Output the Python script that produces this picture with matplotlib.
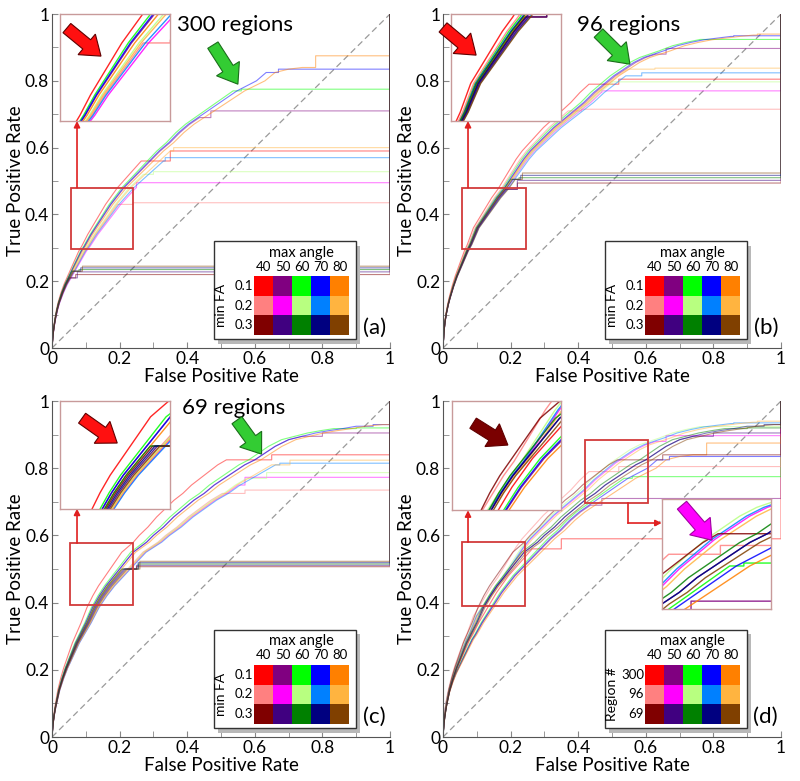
import numpy as np
import matplotlib
matplotlib.use("Agg")
import matplotlib.pyplot as plt
from matplotlib.patches import Rectangle, FancyArrow
from matplotlib.ticker import MultipleLocator

plt.rcParams['font.family'] = ['Lato', 'DejaVu Sans']

# shared FPR grid of the base ROC curves
fpr_grid = [0, 0.003, 0.006, 0.01, 0.015, 0.02, 0.03, 0.04, 0.05, 0.06, 0.07, 0.08, 0.09, 0.10,
            0.12, 0.14, 0.16, 0.18, 0.20, 0.22, 0.24, 0.26, 0.28, 0.30, 0.33, 0.36, 0.39, 0.42,
            0.45, 0.48, 0.51, 0.54, 0.57, 0.60, 0.63, 0.66, 0.70, 0.74, 0.78, 0.82, 0.86, 0.90,
            0.95, 1.0]
# base TPR
tpr_300 = [0, 0.04, 0.065, 0.09, 0.115, 0.135, 0.165, 0.19, 0.21, 0.23, 0.25, 0.27, 0.29, 0.305,
           0.34, 0.37, 0.40, 0.43, 0.455, 0.48, 0.50, 0.52, 0.54, 0.56, 0.59, 0.615, 0.645, 0.67,
           0.69, 0.71, 0.73, 0.75, 0.77, 0.785, 0.80, 0.825, 0.835, 0.84, 0.845, 0.85, 0.865, 0.88,
           0.89, 0.90]
tpr_96 = [0, 0.05, 0.08, 0.105, 0.13, 0.15, 0.185, 0.215, 0.24, 0.265, 0.29, 0.31, 0.335, 0.36,
          0.39, 0.42, 0.45, 0.475, 0.505, 0.535, 0.565, 0.59, 0.61, 0.63, 0.66, 0.685, 0.71, 0.735,
          0.765, 0.79, 0.815, 0.835, 0.855, 0.87, 0.88, 0.89, 0.905, 0.915, 0.923, 0.928, 0.933,
          0.937, 0.94, 0.942]
tpr_69 = [0, 0.04, 0.065, 0.09, 0.115, 0.14, 0.175, 0.205, 0.23, 0.255, 0.28, 0.30, 0.32, 0.34,
          0.385, 0.42, 0.45, 0.475, 0.50, 0.525, 0.55, 0.565, 0.58, 0.60, 0.625, 0.655, 0.68, 0.705,
          0.725, 0.75, 0.77, 0.79, 0.81, 0.825, 0.845, 0.865, 0.885, 0.895, 0.905, 0.912, 0.918,
          0.925, 0.93, 0.935]

angles = ['40', '50', '60', '70', '80']
fa_labels = ['0.1', '0.2', '0.3']
region_labels = ['300', '96', '69']
tick_labels = ['0', '0.2', '0.4', '0.6', '0.8', '1']

palette = [['#ff0000', '#800080', '#00ff00', '#0000ff', '#ff8000'],
           ['#ff8080', '#ff00ff', '#b8ff80', '#0080ff', '#ffb440'],
           ['#800000', '#400080', '#008000', '#000080', '#804000']]

# per curve: FPR stretch, final TPR plateau, FPR where it jumps to the plateau
# rows = min FA 0.1/0.2/0.3, columns = max angle 40..80
scale_300 = [[0.88, 0.97, 0.94, 0.96, 1.0], [1.08, 1.13, 1.04, 1.1, 1.06], [1.0, 1.05, 0.98, 1.03, 1.07]]
plateau_300 = [[0.59, 0.71, 0.775, 0.835, 0.875], [0.435, 0.495, 0.528, 0.57, 0.60], [0.22, 0.228, 0.235, 0.24, 0.245]]
end_300 = [[0.35, 0.47, 0.56, 0.67, 0.78], [0.24, 0.25, 0.30, 0.335, 0.36], [0.07, 0.075, 0.08, 0.085, 0.09]]

scale_96 = [[0.9, 1.0, 0.97, 0.99, 1.02], [0.95, 1.04, 1.03, 1.06, 1.01], [1.02, 1.05, 1.0, 1.03, 1.07]]
plateau_96 = [[0.805, 0.897, 0.924, 0.935, 0.94], [0.715, 0.77, 0.797, 0.824, 0.838], [0.494, 0.502, 0.51, 0.517, 0.524]]
end_96 = [[0.52, 0.66, 0.76, 0.86, 0.93], [0.41, 0.47, 0.50, 0.588, 0.627], [0.22, 0.22, 0.225, 0.23, 0.235]]

scale_69 = [[0.86, 1.0, 0.97, 1.0, 1.03], [1.12, 1.15, 1.13, 1.16, 1.14], [1.05, 1.09, 1.03, 1.07, 1.11]]
plateau_69 = [[0.84, 0.905, 0.92, 0.93, 0.935], [0.735, 0.773, 0.787, 0.815, 0.824], [0.507, 0.511, 0.515, 0.519, 0.523]]
end_69 = [[0.65, 0.80, 0.90, 0.95, 1.0], [0.571, 0.571, 0.635, 0.674, 0.704], [0.25, 0.25, 0.255, 0.255, 0.26]]


def roc_path(base, s, p, xe):
    x = np.array(fpr_grid) * s
    y = np.array(base)
    keep = (y < p) & (x < xe)
    xk, yk = list(x[keep]), list(y[keep])
    xe = max(xe, xk[-1])
    xs = xk + [xe, xe, 1.0, 1.0]
    ys = yk + [yk[-1], p, p, 1.0]
    return xs, ys


def panel_curves(base, scale, plateau, end):
    out = []
    for r in range(3):
        for c in range(5):
            xs, ys = roc_path(base, scale[r][c], plateau[r][c], end[r][c])
            out.append((xs, ys, palette[r][c]))
    return out


curves_a = panel_curves(tpr_300, scale_300, plateau_300, end_300)
curves_b = panel_curves(tpr_96, scale_96, plateau_96, end_96)
curves_c = panel_curves(tpr_69, scale_69, plateau_69, end_69)
curves_d = []
for r, (base, sc, pl, en) in enumerate([(tpr_300, scale_300, plateau_300, end_300),
                                        (tpr_96, scale_96, plateau_96, end_96),
                                        (tpr_69, scale_69, plateau_69, end_69)]):
    for c in range(5):
        xs, ys = roc_path(base, sc[0][c], pl[0][c], en[0][c])
        curves_d.append((xs, ys, palette[r][c]))


def add_inset(ax, curves, rect, box):
    ax.add_patch(Rectangle((rect[0], rect[1]), rect[2] - rect[0], rect[3] - rect[1],
                           fill=False, ec='#d23a3a', lw=1.3, zorder=4))
    ins = ax.inset_axes([box[0], box[1], box[2] - box[0], box[3] - box[1]], transform=ax.transData)
    for xs, ys, col in curves:
        ins.plot(xs, ys, color=col, lw=1.0, alpha=0.85)
    ins.set_xlim(rect[0], rect[2])
    ins.set_ylim(rect[1], rect[3])
    ins.set_xticks([])
    ins.set_yticks([])
    for sp in ins.spines.values():
        sp.set_color('#c89a9a')
        sp.set_linewidth(1.0)
    return ins


def add_legend(ax, row_title, row_labels):
    bx0, by0, bx1, by1 = 0.478, 0.026, 0.90, 0.32
    ax.add_patch(Rectangle((bx0 + 0.012, by0 - 0.014), bx1 - bx0, by1 - by0, transform=ax.transAxes,
                           fc='#b8b8b8', ec='none', zorder=8))
    ax.add_patch(Rectangle((bx0, by0), bx1 - bx0, by1 - by0, transform=ax.transAxes,
                           fc='white', ec='#333333', lw=1.0, zorder=9))
    gx0, gy1, cw, rh = 0.598, 0.215, 0.0564, 0.0588
    for r in range(3):
        for c in range(5):
            ax.add_patch(Rectangle((gx0 + c * cw, gy1 - (r + 1) * rh), cw, rh, transform=ax.transAxes,
                                   fc=palette[r][c], ec='none', zorder=10))
        ax.text(gx0 - 0.003, gy1 - (r + 0.5) * rh, row_labels[r], transform=ax.transAxes,
                ha='right', va='center', fontsize=9.5, zorder=11)
    for c in range(5):
        ax.text(gx0 + (c + 0.5) * cw, 0.243, angles[c], transform=ax.transAxes,
                ha='center', va='center', fontsize=9.5, zorder=11)
    ax.text(gx0 + 2.5 * cw, 0.285, 'max angle', transform=ax.transAxes,
            ha='center', va='center', fontsize=10.5, zorder=11)
    ax.text(0.5, gy1 - 1.5 * rh, row_title, transform=ax.transAxes, rotation=90,
            ha='center', va='center', fontsize=10, zorder=11)


def block_arrow(ax, tail, tip, fc, ec):
    dx, dy = tip[0] - tail[0], tip[1] - tail[1]
    ax.add_patch(FancyArrow(tail[0], tail[1], dx, dy, width=0.036, head_width=0.08, head_length=0.055,
                            length_includes_head=True, transform=ax.transAxes, fc=fc, ec=ec, lw=0.8,
                            zorder=12, clip_on=False))


fig = plt.figure(figsize=(8, 7.81), dpi=100)
positions = [[0.065, 0.5544, 0.4225, 0.4276], [0.55375, 0.5544, 0.4225, 0.4276],
             [0.065, 0.0563, 0.4225, 0.4302], [0.55375, 0.0563, 0.4225, 0.4302]]
panels = [
    dict(curves=curves_a, label='(a)', title='300 regions', title_xy=(0.54, 0.968),
         rect=(0.055, 0.295, 0.24, 0.48), box=(0.025, 0.68, 0.35, 1.0),
         red=((0.044, 0.958), (0.145, 0.874)), green=((0.476, 0.907), (0.55, 0.79)),
         row_title='min FA', rows=fa_labels, red_col='#ff1010'),
    dict(curves=curves_b, label='(b)', title='96 regions', title_xy=(0.55, 0.968),
         rect=(0.057, 0.295, 0.245, 0.48), box=(0.025, 0.68, 0.35, 1.0),
         red=((0.0, 0.96), (0.098, 0.877)), green=((0.46, 0.943), (0.553, 0.85)),
         row_title='min FA', rows=fa_labels, red_col='#ff1010'),
    dict(curves=curves_c, label='(c)', title='69 regions', title_xy=(0.536, 0.98),
         rect=(0.053, 0.393, 0.24, 0.577), box=(0.025, 0.68, 0.35, 1.0),
         red=((0.089, 0.949), (0.193, 0.875)), green=((0.547, 0.943), (0.62, 0.842)),
         row_title='min FA', rows=fa_labels, red_col='#ff1010'),
    dict(curves=curves_d, label='(d)', title=None, title_xy=None,
         rect=(0.056, 0.39, 0.243, 0.58), box=(0.027, 0.675, 0.35, 1.0),
         red=((0.089, 0.934), (0.192, 0.869)), green=None,
         row_title='Region #', rows=region_labels, red_col='#7a0000'),
]

for pos, pn in zip(positions, panels):
    ax = fig.add_axes(pos)
    ax.plot([0, 1], [0, 1], color='#9a9a9a', lw=0.9, dashes=(5, 3), zorder=1)
    for xs, ys, col in pn['curves']:
        ax.plot(xs, ys, color=col, lw=0.8, alpha=0.5, zorder=2)
    ax.set_xlim(0, 1)
    ax.set_ylim(0, 1)
    ax.set_xticks([0, 0.2, 0.4, 0.6, 0.8, 1])
    ax.set_xticklabels(tick_labels)
    ax.set_yticks([0, 0.2, 0.4, 0.6, 0.8, 1])
    ax.set_yticklabels(tick_labels)
    ax.xaxis.set_minor_locator(MultipleLocator(0.1))
    ax.yaxis.set_minor_locator(MultipleLocator(0.1))
    ax.tick_params(which='both', direction='in', length=4, color='#888888', labelsize=12.5, pad=2)
    for side in ['top', 'right']:
        ax.spines[side].set_visible(False)
    for side in ['left', 'bottom']:
        ax.spines[side].set_color('#555555')
    ax.set_xlabel('False Positive Rate', fontsize=13.5, labelpad=1)
    ax.set_ylabel('True Positive Rate', fontsize=13.5, labelpad=1)

    rect, box = pn['rect'], pn['box']
    add_inset(ax, pn['curves'], rect, box)
    ax.annotate('', xy=(0.074, box[1]), xytext=(0.074, rect[3]),
                arrowprops=dict(arrowstyle='-|>', color='#e02020', lw=1.2, mutation_scale=9,
                                shrinkA=0, shrinkB=0), zorder=5)
    if pn['label'] == '(d)':
        rect2, box2 = (0.42, 0.696, 0.606, 0.884), (0.647, 0.38, 0.97, 0.708)
        add_inset(ax, pn['curves'], rect2, box2)
        ax.plot([0.547, 0.547], [rect2[1], 0.637], color='#e02020', lw=1.2, zorder=5)
        ax.annotate('', xy=(box2[0], 0.637), xytext=(0.547, 0.637),
                    arrowprops=dict(arrowstyle='-|>', color='#e02020', lw=1.2, mutation_scale=9,
                                    shrinkA=0, shrinkB=0), zorder=5)
        block_arrow(ax, (0.707, 0.69), (0.796, 0.586), '#ff00ff', '#a000a0')

    block_arrow(ax, pn['red'][0], pn['red'][1], pn['red_col'], '#600000')
    if pn['green'] is not None:
        block_arrow(ax, pn['green'][0], pn['green'][1], '#33cc33', '#1a6e1a')
    if pn['title'] is not None:
        ax.text(pn['title_xy'][0], pn['title_xy'][1], pn['title'], transform=ax.transAxes,
                ha='center', va='center', fontsize=16, zorder=6)
    ax.text(0.955, 0.06, pn['label'], transform=ax.transAxes, ha='center', va='center',
            fontsize=16, zorder=6)
    add_legend(ax, pn['row_title'], pn['rows'])

fig.savefig('out.png', dpi=100)
